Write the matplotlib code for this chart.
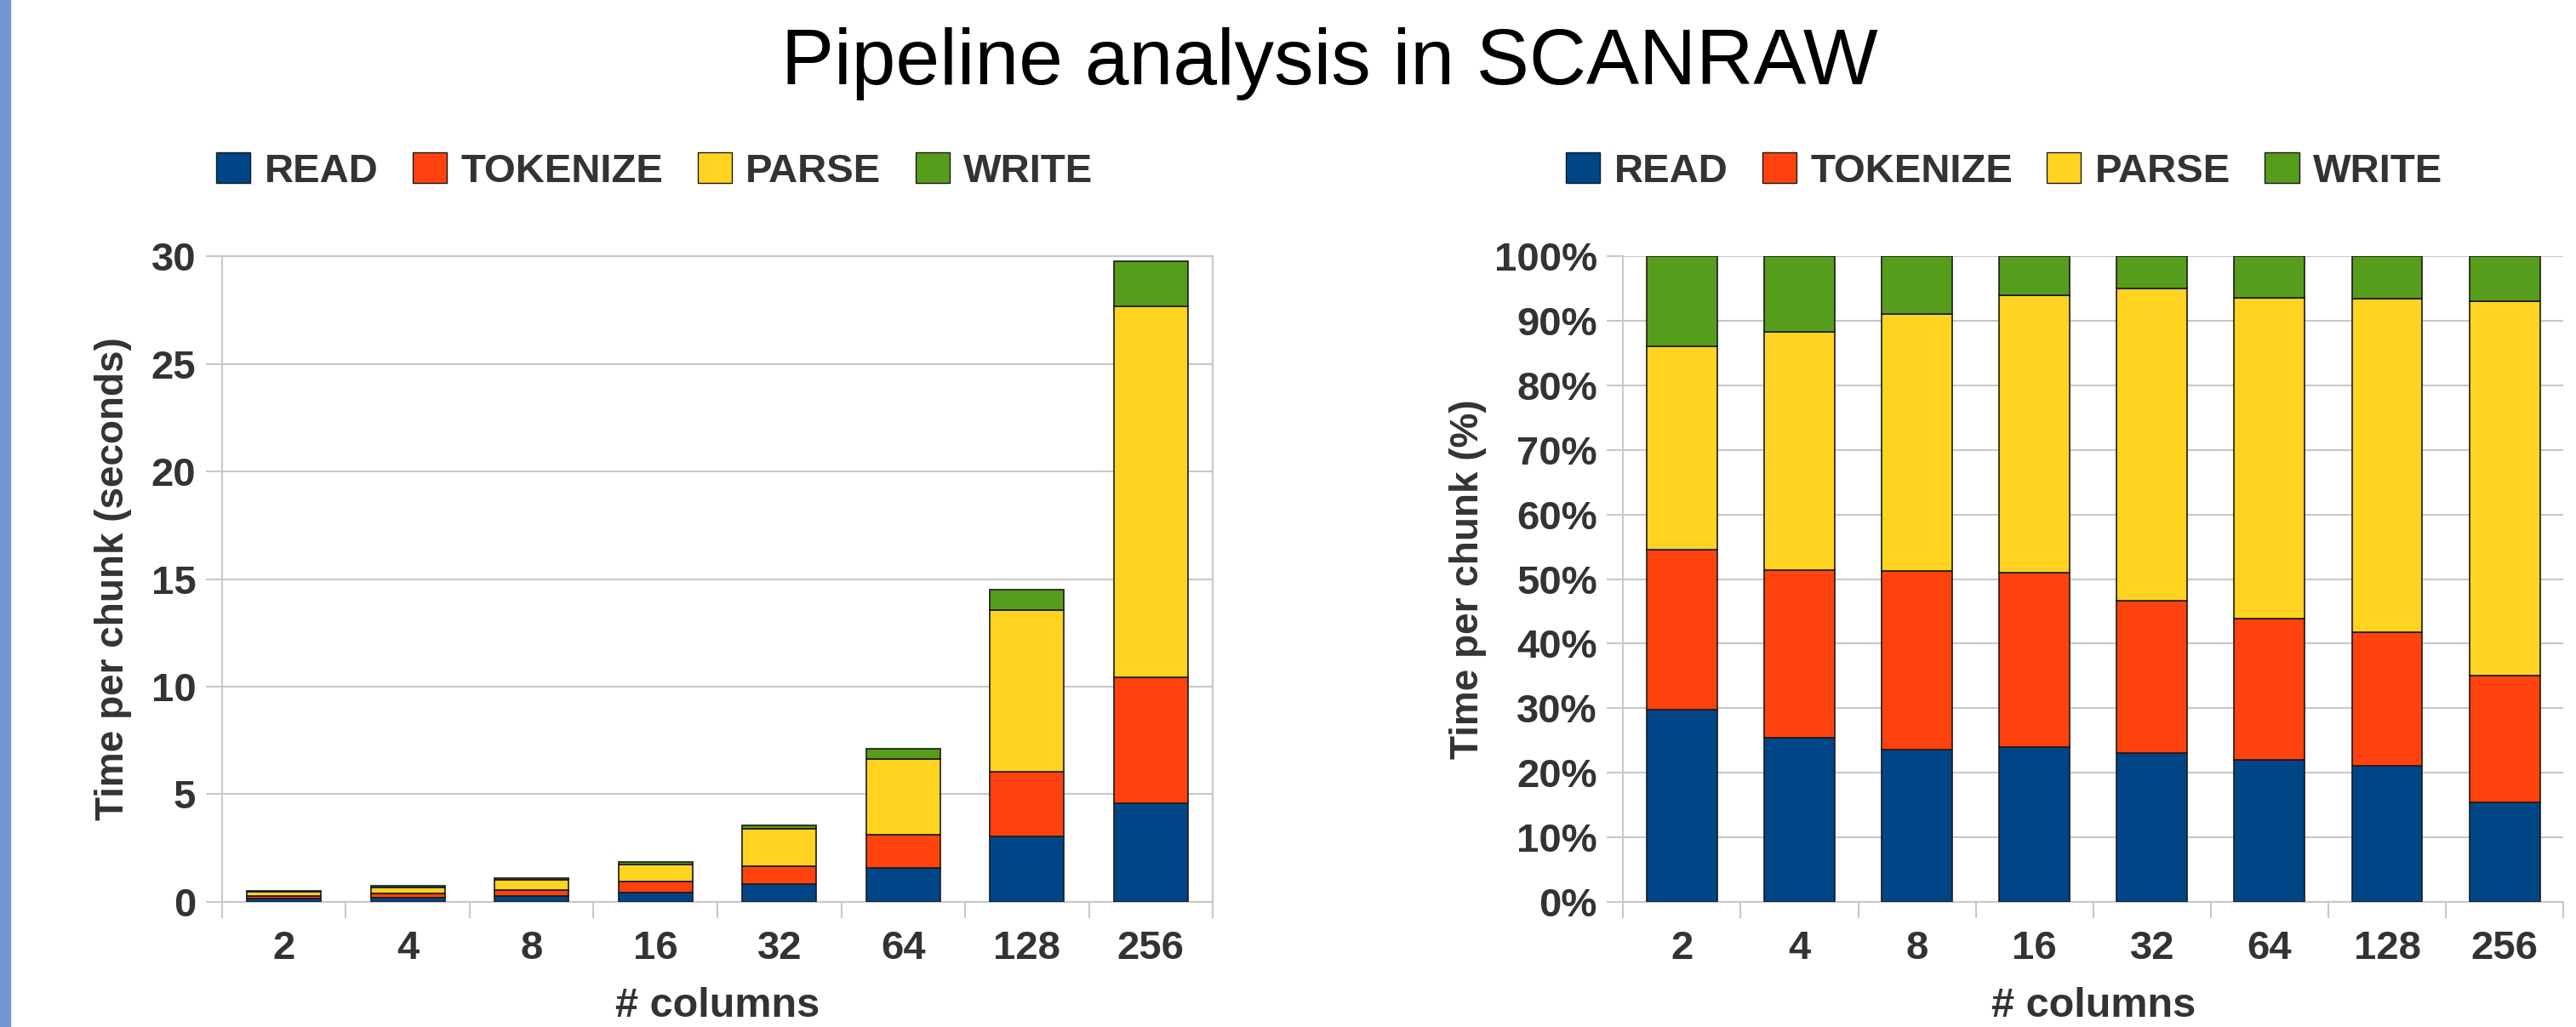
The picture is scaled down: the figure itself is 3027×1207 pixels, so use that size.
import numpy as np
import matplotlib.pyplot as plt
from matplotlib.patches import Patch

plt.rcParams['font.family'] = ['Liberation Sans', 'DejaVu Sans']

cols = ['2', '4', '8', '16', '32', '64', '128', '256']
stages = ['READ', 'TOKENIZE', 'PARSE', 'WRITE']
colors = ['#004586', '#ff420e', '#ffd320', '#579d1c']

# seconds per chunk, per stage
read = [0.158, 0.188, 0.262, 0.446, 0.821, 1.562, 3.06, 4.58]
tokenize = [0.131, 0.192, 0.307, 0.502, 0.843, 1.555, 3.00, 5.86]
parse = [0.167, 0.273, 0.442, 0.800, 1.728, 3.522, 7.48, 17.24]
write = [0.074, 0.087, 0.099, 0.112, 0.179, 0.462, 0.96, 2.08]

data = np.array([read, tokenize, parse, write])
pct = data / data.sum(axis=0) * 100

txt = '#333333'
grid = '#c8c8c8'

fig = plt.figure(figsize=(30.27, 12.07), dpi=100)
fig.patches.append(plt.Rectangle((0, 0), 0.004, 1, transform=fig.transFigure,
                                 color='#7094d4', zorder=0))
fig.text(0.516, 0.938, 'Pipeline analysis in SCANRAW', ha='center', va='center',
         fontsize=67, color='black')

ax1 = fig.add_axes([0.0862, 0.1218, 0.3846, 0.6288])
ax2 = fig.add_axes([0.6301, 0.1218, 0.3650, 0.6288])

x = np.arange(len(cols))


def draw(ax, vals, ylim, yticks, yticklabels, ylabel, lpad):
    bottom = np.zeros(len(cols))
    for i in range(4):
        ax.bar(x, vals[i], 0.6, bottom=bottom, color=colors[i],
               edgecolor='#1a1a1a', linewidth=1.2, zorder=3)
        bottom += vals[i]
    ax.set_xlim(-0.5, len(cols) - 0.5)
    ax.set_ylim(*ylim)
    ax.set_yticks(yticks)
    ax.set_yticklabels(yticklabels)
    ax.set_xticks(x)
    ax.set_xticklabels(cols)
    ax.set_xticks(np.arange(-0.5, len(cols)), minor=True)
    ax.tick_params(axis='x', which='major', length=0, pad=24)
    ax.tick_params(axis='x', which='minor', length=14, color=grid, width=1.5)
    ax.tick_params(axis='y', length=14, color=grid, width=1.5, pad=8)
    for lab in ax.get_xticklabels() + ax.get_yticklabels():
        lab.set_fontsize(34)
        lab.set_fontweight('bold')
        lab.set_color(txt)
    ax.yaxis.grid(True, color=grid, linewidth=1.5, zorder=0)
    for s in ax.spines.values():
        s.set_color(grid)
        s.set_linewidth(1.5)
    ax.set_xlabel('# columns', fontsize=35, fontweight='bold', color=txt, labelpad=16)
    ax.set_ylabel(ylabel, fontsize=33, fontweight='bold', color=txt, labelpad=lpad)


draw(ax1, data, (0, 30), range(0, 31, 5), [str(v) for v in range(0, 31, 5)],
     'Time per chunk (seconds)', 16)
draw(ax2, pct, (0, 100), range(0, 101, 10), ['%d%%' % v for v in range(0, 101, 10)],
     'Time per chunk (%)', 6)
for s in ['top', 'right']:
    ax2.spines[s].set_visible(False)

handles = [Patch(facecolor=c, edgecolor='#1a1a1a', linewidth=1) for c in colors]
for xpos in [0.0762, 0.6001]:
    leg = fig.legend(handles, stages, loc='center left', bbox_to_anchor=(xpos, 0.833),
                     ncol=4, frameon=False, handlelength=0.85, handleheight=0.8,
                     handletextpad=0.35, columnspacing=0.85, borderpad=0,
                     prop={'size': 34, 'weight': 'bold'})
    for t in leg.get_texts():
        t.set_color(txt)

fig.savefig('out.png', dpi=100)
